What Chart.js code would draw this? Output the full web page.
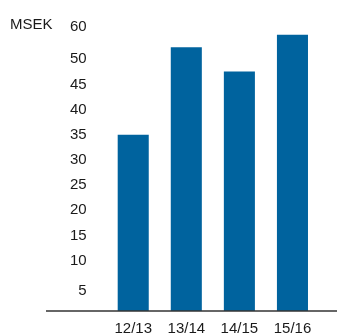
<!DOCTYPE html>
<html>
<head>
<meta charset="utf-8">
<script src="https://cdn.jsdelivr.net/npm/chart.js@4"></script>
<style>
  body { margin: 0; background: #fff; }
  #wrap { width: 337px; height: 333px; position: relative; }
</style>
</head>
<body>
<div id="wrap"><canvas id="chart"></canvas></div>
<script>
// Данные графика
var categories = ['12/13', '13/14', '14/15', '15/16'];
var values = [35, 52.4, 47.6, 54.9];
var tickValues = [4, 10, 15, 20, 25, 30, 35, 40, 45, 50, 56.5];
var tickLabels = ['5', '10', '15', '20', '25', '30', '35', '40', '45', '50', '60'];
var unitLabel = 'MSEK';

var textColor = '#1a1a1a';
var fontFamily = '"Liberation Sans", Arial, Helvetica, sans-serif';

// Линия основания и подпись единиц
var extras = {
    id: 'extras',
    afterDatasetsDraw: function (chart) {
        var ctx = chart.ctx;
        var area = chart.chartArea;
        ctx.save();
        ctx.strokeStyle = '#333';
        ctx.lineWidth = 1.5;
        ctx.beginPath();
        ctx.moveTo(46, area.bottom);
        ctx.lineTo(chart.width, area.bottom);
        ctx.stroke();
        ctx.fillStyle = textColor;
        ctx.font = '15px ' + fontFamily;
        ctx.textBaseline = 'middle';
        ctx.textAlign = 'left';
        ctx.fillText(unitLabel, 10, 25);
        ctx.restore();
    }
};

var ctx = document.getElementById('chart').getContext('2d');
var chart = new Chart(ctx, {
    type: 'bar',
    data: {
        labels: categories,
        datasets: [{
            data: values,
            backgroundColor: '#00639e',
            borderWidth: 0,
            categoryPercentage: 1,
            barPercentage: 0.585
        }]
    },
    options: {
        responsive: true,
        maintainAspectRatio: false,
        animation: false,
        layout: { padding: { left: 50, right: 18, top: 9, bottom: 0 } },
        plugins: { legend: { display: false }, tooltip: { enabled: false } },
        scales: {
            x: {
                grid: { display: false, drawTicks: false },
                border: { display: false },
                afterFit: function (axis) { axis.height = 22; },
                ticks: { color: textColor, padding: 10, font: { family: fontFamily, size: 15, lineHeight: 1 } }
            },
            y: {
                min: 0,
                max: 60,
                grid: { display: false, drawTicks: false },
                border: { display: false },
                afterBuildTicks: function (axis) {
                    axis.ticks = tickValues.map(function (v) { return { value: v }; });
                },
                afterFit: function (axis) {
                    axis.paddingTop = 0;
                    axis.paddingBottom = 0;
                },
                ticks: {
                    color: textColor,
                    padding: 20,
                    font: { family: fontFamily, size: 15 },
                    callback: function (value, index) { return tickLabels[index]; }
                }
            }
        }
    },
    plugins: [extras]
});
</script>
</body>
</html>
